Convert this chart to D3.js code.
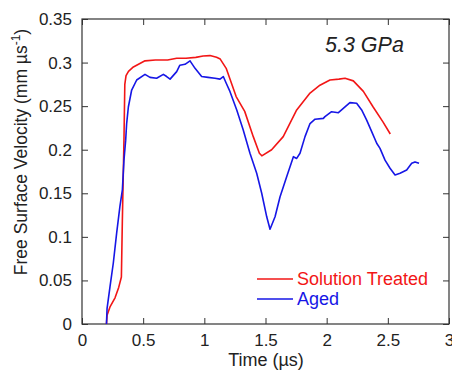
<!DOCTYPE html>
<html>
<head>
<meta charset="utf-8">
<script src="https://cdn.jsdelivr.net/npm/d3@7"></script>
<style>
  body { margin: 0; background: #fff; }
  svg { display: block; font-family: "Liberation Sans", Arial, sans-serif; }
  .axis line, .axis path { stroke: #333; }
</style>
</head>
<body>
<svg id="chart" width="452" height="371"></svg>
<script>
// values: [time (us), velocity (mm/us)]
var solutionTreated = [
  [0.2, 0], [0.205, 0.01], [0.23, 0.02], [0.27, 0.03], [0.3, 0.042], [0.322, 0.054],
  [0.33, 0.12], [0.343, 0.211], [0.35, 0.275], [0.36, 0.285], [0.38, 0.29], [0.42, 0.295],
  [0.515, 0.302], [0.6, 0.303], [0.7, 0.303], [0.774, 0.305], [0.85, 0.305], [0.93, 0.306],
  [0.99, 0.3075], [1.046, 0.308], [1.1, 0.306], [1.13, 0.304], [1.18, 0.293], [1.26, 0.261],
  [1.33, 0.244], [1.4, 0.215], [1.45, 0.196], [1.47, 0.193], [1.55, 0.2], [1.645, 0.215],
  [1.755, 0.2456], [1.864, 0.265], [1.945, 0.274], [2.027, 0.28], [2.1, 0.281], [2.15, 0.282],
  [2.218, 0.279], [2.3, 0.267], [2.38, 0.249], [2.46, 0.232], [2.52, 0.218]
];
var aged = [
  [0.2, 0], [0.205, 0.018], [0.229, 0.043], [0.256, 0.07], [0.283, 0.104], [0.31, 0.135],
  [0.33, 0.154], [0.343, 0.188], [0.357, 0.211], [0.365, 0.23], [0.379, 0.249], [0.406, 0.2685],
  [0.447, 0.28], [0.515, 0.2865], [0.556, 0.283], [0.61, 0.282], [0.665, 0.2865], [0.692, 0.284],
  [0.72, 0.281], [0.774, 0.2896], [0.8, 0.297], [0.842, 0.298], [0.883, 0.302], [0.924, 0.2934],
  [0.978, 0.284], [1.03, 0.283], [1.087, 0.282], [1.128, 0.281], [1.155, 0.284], [1.18, 0.276],
  [1.21, 0.2666], [1.265, 0.2456], [1.318, 0.2226], [1.373, 0.196], [1.428, 0.173], [1.469, 0.15],
  [1.51, 0.123], [1.537, 0.1087], [1.578, 0.123], [1.619, 0.146], [1.673, 0.169], [1.728, 0.192],
  [1.755, 0.19], [1.782, 0.196], [1.823, 0.215], [1.864, 0.23], [1.905, 0.235], [1.973, 0.236],
  [1.986, 0.238], [2.04, 0.2436], [2.096, 0.2425], [2.136, 0.2475], [2.19, 0.254], [2.245, 0.2533],
  [2.286, 0.2456], [2.327, 0.234], [2.368, 0.2207], [2.409, 0.2074], [2.436, 0.2016], [2.477, 0.188],
  [2.518, 0.1787], [2.559, 0.171], [2.6, 0.173], [2.654, 0.1767], [2.695, 0.1844], [2.722, 0.186],
  [2.755, 0.1844]
];
var xTicks = [0, 0.5, 1, 1.5, 2, 2.5, 3];
var yTicks = [0, 0.05, 0.1, 0.15, 0.2, 0.25, 0.3, 0.35];
var seriesNames = ["Solution Treated", "Aged"];
var seriesColors = ["#f21616", "#1616e6"];

var svg = d3.select("#chart");
var plotL = 82, plotR = 449, plotT = 19, plotB = 324;

var x = d3.scaleLinear().domain([0, 3]).range([plotL, plotR]);
var y = d3.scaleLinear().domain([0, 0.35]).range([plotB, plotT]);

// frame
svg.append("rect")
    .attr("x", plotL).attr("y", plotT)
    .attr("width", plotR - plotL).attr("height", plotB - plotT)
    .attr("fill", "none").attr("stroke", "#333").attr("stroke-width", 1.2);

function fmt(d) { return d3.format("")(d); }

// bottom + left axes with labels, ticks pointing inward
svg.append("g").attr("class", "axis")
    .attr("transform", "translate(0," + plotB + ")")
    .call(d3.axisBottom(x).tickValues(xTicks).tickSize(-6).tickPadding(10).tickFormat(fmt))
    .call(function(g) { g.select(".domain").remove(); })
    .selectAll("text").attr("font-size", 17).attr("fill", "#222");

svg.append("g").attr("class", "axis")
    .attr("transform", "translate(" + plotL + ",0)")
    .call(d3.axisLeft(y).tickValues(yTicks).tickSize(-6).tickPadding(10).tickFormat(fmt))
    .call(function(g) { g.select(".domain").remove(); })
    .selectAll("text").attr("font-size", 17).attr("fill", "#222");

// top + right ticks
svg.append("g").attr("class", "axis")
    .attr("transform", "translate(0," + plotT + ")")
    .call(d3.axisTop(x).tickValues(xTicks).tickSize(-6).tickFormat(""))
    .call(function(g) { g.select(".domain").remove(); });

svg.append("g").attr("class", "axis")
    .attr("transform", "translate(" + plotR + ",0)")
    .call(d3.axisRight(y).tickValues(yTicks).tickSize(-6).tickFormat(""))
    .call(function(g) { g.select(".domain").remove(); });

// curves
var line = d3.line()
    .x(function(d) { return x(d[0]); })
    .y(function(d) { return y(d[1]); });

[solutionTreated, aged].forEach(function(data, i) {
    svg.append("path")
        .datum(data)
        .attr("fill", "none")
        .attr("stroke", seriesColors[i])
        .attr("stroke-width", 1.6)
        .attr("stroke-linejoin", "round")
        .attr("d", line);
});

// axis titles
svg.append("text")
    .attr("x", 266).attr("y", 366)
    .attr("text-anchor", "middle")
    .attr("font-size", 18).attr("fill", "#222")
    .text("Time (\u00b5s)");

var yl = svg.append("text")
    .attr("transform", "translate(27,152) rotate(-90)")
    .attr("text-anchor", "middle")
    .attr("font-size", 17.5).attr("fill", "#222");
yl.append("tspan").text("Free Surface Velocity (mm \u00b5s");
yl.append("tspan").attr("font-size", 12).attr("dy", -7).text("-1");
yl.append("tspan").attr("dy", 7).text(")");

// annotation
svg.append("text")
    .attr("x", 325).attr("y", 52)
    .attr("font-size", 21.5).attr("font-style", "italic").attr("fill", "#222")
    .text("5.3 GPa");

// legend
var legend = svg.append("g");
seriesNames.forEach(function(name, i) {
    var ly = 279 + i * 20;
    legend.append("line")
        .attr("x1", 257).attr("x2", 293)
        .attr("y1", ly).attr("y2", ly)
        .attr("stroke", seriesColors[i]).attr("stroke-width", 1.6);
    legend.append("text")
        .attr("x", 297).attr("y", ly + 6)
        .attr("font-size", 18).attr("fill", seriesColors[i])
        .text(name);
});
</script>
</body>
</html>
